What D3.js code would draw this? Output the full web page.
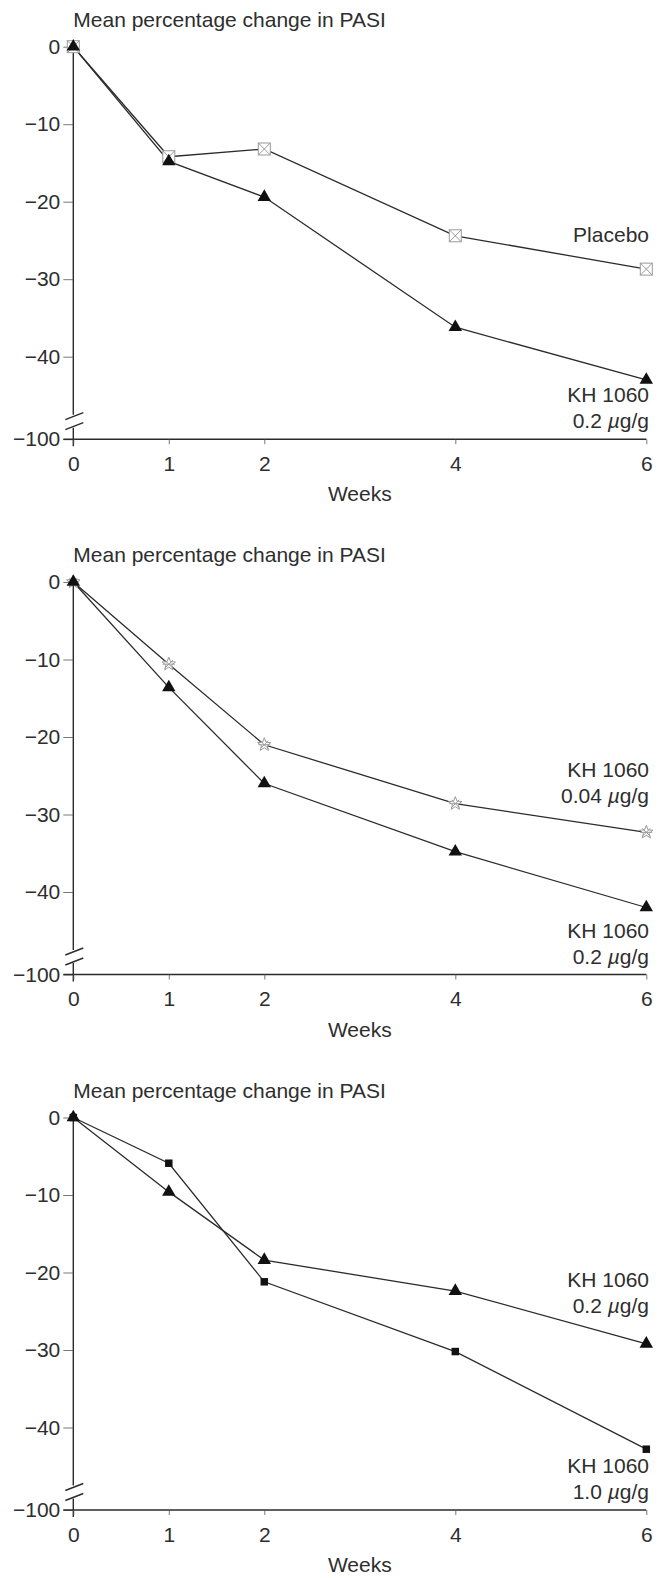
<!DOCTYPE html>
<html>
<head>
<meta charset="utf-8">
<script src="https://cdn.jsdelivr.net/npm/d3@7"></script>
<style>
  body { margin: 0; background: #fff; }
  svg { display: block; }
  text { font-family: "Liberation Sans", Arial, Helvetica, sans-serif; font-size: 21px; fill: #2e2e2e; }
  .series { fill: none; stroke: #2b2b2b; stroke-width: 1.3; }
  .axisline { stroke: #2b2b2b; stroke-width: 1.4; fill: none; }
</style>
</head>
<body>
<div id="chart"></div>
<script>
// chart values
const weeks = [0, 1, 2, 4, 6];
const yTicks = [0, -10, -20, -30, -40];
const yBreakValue = -100;
const titleText = "Mean percentage change in PASI";
const xTitle = "Weeks";

const placebo = [0, -14.2, -13.2, -24.4, -28.7];
const kh02First = [0, -14.8, -19.4, -36.2, -43.0];
const kh004 = [0, -10.6, -21.0, -28.6, -32.3];
const kh02Second = [0, -13.6, -26.0, -34.8, -42.0];
const kh10 = [0, -5.9, -21.2, -30.2, -42.8];
const kh02Third = [0, -9.6, -18.4, -22.4, -29.2];

// layout
const width = 667, height = 1578;
const x0 = 73.3, x6 = 646.3;
const unit = 7.75;            // px per 1 % on the upper part
const baseOffset = 392.5;     // from 0 down to the -100 line
const panelTops = [46.7, 582, 1117.5];

// upper labels hang off the last point (dy px), lower ones sit on the baseline
const panels = [
  {
    top: panelTops[0],
    series: [
      { values: placebo, marker: "crossbox", label: ["Placebo"], dy: -27.5 },
      { values: kh02First, marker: "triangle", label: ["KH 1060", "0.2 µg/g"], bottom: true }
    ]
  },
  {
    top: panelTops[1],
    series: [
      { values: kh004, marker: "star", label: ["KH 1060", "0.04 µg/g"], dy: -55 },
      { values: kh02Second, marker: "triangle", label: ["KH 1060", "0.2 µg/g"], bottom: true }
    ]
  },
  {
    top: panelTops[2],
    series: [
      { values: kh02Third, marker: "triangle", label: ["KH 1060", "0.2 µg/g"], dy: -57 },
      { values: kh10, marker: "square", label: ["KH 1060", "1.0 µg/g"], bottom: true }
    ]
  }
];

const svg = d3.select("#chart").append("svg")
  .attr("width", width)
  .attr("height", height);
svg.append("rect").attr("width", width).attr("height", height).attr("fill", "#fff");

const x = d3.scaleLinear().domain([0, 6]).range([x0, x6]);

function drawMarker(g, type, px, py) {
  if (type === "triangle") {
    g.append("path")
      .attr("d", d3.symbol().type(d3.symbolTriangle).size(78)())
      .attr("transform", `translate(${px},${py})`)
      .attr("fill", "#111");
  } else if (type === "square") {
    g.append("path")
      .attr("d", d3.symbol().type(d3.symbolSquare).size(56)())
      .attr("transform", `translate(${px},${py})`)
      .attr("fill", "#111");
  } else if (type === "crossbox") {
    const s = 6;
    const m = g.append("g").attr("transform", `translate(${px},${py})`)
      .attr("fill", "#fff").attr("stroke", "#9a9a9a").attr("stroke-width", 1);
    m.append("rect").attr("x", -s).attr("y", -s).attr("width", 2 * s).attr("height", 2 * s);
    m.append("path").attr("d", `M${-s},${-s}L${s},${s}M${s},${-s}L${-s},${s}`);
  } else if (type === "star") {
    const m = g.append("g").attr("transform", `translate(${px},${py})`)
      .attr("fill", "none").attr("stroke", "#9a9a9a").attr("stroke-width", 1);
    const pts = d3.range(10).map(i => {
      const r = i % 2 === 0 ? 7 : 3;
      const a = -Math.PI / 2 + i * Math.PI / 5;
      return [r * Math.cos(a), r * Math.sin(a)];
    });
    m.append("path").attr("d", "M" + pts.join("L") + "Z").attr("fill", "#fff");
    m.append("path").attr("d", "M-6,0L6,0M-4,-4L4,4M4,-4L-4,4");
  }
}

panels.forEach(function (p) {
  const g = svg.append("g");
  const base = p.top + baseOffset;
  // broken y scale: 0..-48 linear, then jump to the -100 line
  const y = d3.scaleLinear()
    .domain([yBreakValue, -48, 0])
    .range([base, p.top + 48 * unit, p.top]);

  // title
  g.append("text").attr("x", x0).attr("y", p.top - 20).text(titleText);

  // y axis line with break
  const brk1 = p.top + 369.5, brk2 = p.top + 379.5;
  g.append("line").attr("class", "axisline")
    .attr("x1", x0).attr("x2", x0).attr("y1", p.top).attr("y2", brk1 - 1.5);
  g.append("line").attr("class", "axisline")
    .attr("x1", x0).attr("x2", x0).attr("y1", brk2 + 1.5).attr("y2", base + 7);
  [brk1, brk2].forEach(function (c) {
    g.append("line").attr("class", "axisline")
      .attr("x1", x0 - 8).attr("y1", c + 3.5).attr("x2", x0 + 10).attr("y2", c - 3.5);
  });

  // y ticks
  const yAxis = d3.axisLeft(y).tickValues(yTicks.concat([yBreakValue]))
    .tickSize(10).tickPadding(3).tickSizeOuter(0);
  const ya = g.append("g").attr("transform", `translate(${x0},0)`).call(yAxis);
  ya.select(".domain").remove();
  ya.selectAll(".tick line").attr("stroke", "#555").attr("stroke-width", 0.8);
  ya.selectAll(".tick text").attr("font-size", null).attr("font-family", null);

  // x axis
  g.append("line").attr("class", "axisline")
    .attr("x1", x0 - 10).attr("x2", x6).attr("y1", base).attr("y2", base);
  const xAxis = d3.axisBottom(x).tickValues(weeks).tickFormat(d3.format("d"))
    .tickSize(5).tickPadding(12).tickSizeOuter(0);
  const xa = g.append("g").attr("transform", `translate(0,${base})`).call(xAxis);
  xa.select(".domain").remove();
  xa.selectAll(".tick line").attr("stroke", "#555").attr("stroke-width", 0.8);
  xa.selectAll(".tick text").attr("font-size", null).attr("font-family", null);

  g.append("text").attr("x", (x0 + x6) / 2).attr("y", base + 62)
    .attr("text-anchor", "middle").text(xTitle);

  // series lines, then markers
  const line = d3.line().x((d, i) => x(weeks[i])).y(d => y(d));
  p.series.forEach(function (s) {
    g.append("path").datum(s.values).attr("class", "series").attr("d", line);
  });
  p.series.forEach(function (s) {
    s.values.forEach(function (v, i) { drawMarker(g, s.marker, x(weeks[i]), y(v)); });
  });

  // series labels
  p.series.forEach(function (s) {
    const last = y(s.values[s.values.length - 1]);
    const first = s.bottom ? base - 37 - 26 * (s.label.length - 2) : last + s.dy;
    s.label.forEach(function (t, j) {
      const txt = g.append("text").attr("x", 649).attr("y", first + 26 * j)
        .attr("text-anchor", "end");
      const mu = t.indexOf("µ");
      if (mu < 0) {
        txt.text(t);
      } else {
        txt.append("tspan").text(t.slice(0, mu));
        txt.append("tspan").attr("font-style", "italic").text("µ");
        txt.append("tspan").text(t.slice(mu + 1));
      }
    });
  });
});
</script>
</body>
</html>
